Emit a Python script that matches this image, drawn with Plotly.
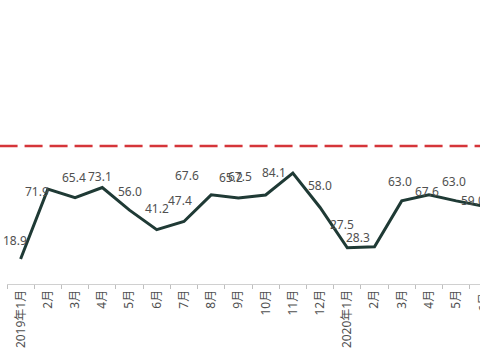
import plotly.graph_objects as go

# ---- data ----
month_ids = ["2019-01", "2019-02", "2019-03", "2019-04", "2019-05", "2019-06",
             "2019-07", "2019-08", "2019-09", "2019-10", "2019-11", "2019-12",
             "2020-01", "2020-02", "2020-03", "2020-04", "2020-05", "2020-06"]
tick_labels = ["2019年1月", "2月", "3月", "4月", "5月", "6月", "7月", "8月", "9月",
               "10月", "11月", "12月", "2020年1月", "2月", "3月", "4月", "5月", "6月"]
values = [18.9, 71.9, 65.4, 73.1, 56.0, 41.2, 47.4, 67.6, 65.2, 67.5, 84.1, 58.0,
          27.5, 28.3, 63.0, 67.6, 63.0, 59.0]
ref_level = 104.7

# ---- label offsets (pixels, style only) ----
label_dx = [-6, -11, -1, -2, 0, 0, -4, -24, -7, -26, -19, 0, -5, -17, -2, -2, -2, -10]
label_dy = [19, -2, 20, 11, 19, 21, 21, 19, 21, 18, 1, 22, 23, 9, 19, 3, 19, 6]

X_RANGE = [-0.5, 16.875]
PLOT_W = 473
CAT_W = PLOT_W / (X_RANGE[1] - X_RANGE[0])   # pixels per category

LINE_COLOR = "#1f3a35"
TEXT_COLOR = "#505050"
FONT = "Noto Sans, Noto Sans CJK SC, sans-serif"

fig = go.Figure()
fig.add_trace(go.Scatter(
    x=month_ids, y=values, mode="lines",
    line=dict(color=LINE_COLOR, width=3),
    hoverinfo="skip", showlegend=False, cliponaxis=True,
))

annotations = []
last = len(month_ids) - 1
for i, (m, v) in enumerate(zip(month_ids, values)):
    # the last category sits just past the visible range; anchor it on the
    # previous category and shift by one category width so it still draws
    anchor = m if i < last else month_ids[i - 1]
    extra = 0 if i < last else CAT_W
    annotations.append(dict(
        x=anchor, y=v, xref="x", yref="y", text=f"{v:.1f}", showarrow=False,
        xanchor="center", yanchor="middle", xshift=label_dx[i] + extra, yshift=label_dy[i],
        font=dict(size=12, color=TEXT_COLOR, family=FONT),
    ))
annotations.append(dict(
    x=month_ids[-2], y=0, xref="x", yref="y", text=tick_labels[-1], showarrow=False,
    textangle=-90, xanchor="center", yanchor="top", yshift=-7, xshift=CAT_W,
    font=dict(size=12, color=TEXT_COLOR, family=FONT),
))

fig.add_shape(type="line", xref="paper", yref="y",
              x0=-0.0157, x1=1.0, y0=ref_level, y1=ref_level,
              line=dict(color="#d5353a", width=2.5, dash="18px,7px"))

fig.update_layout(
    width=480, height=360,
    margin=dict(l=7, r=0, t=0, b=76),
    paper_bgcolor="white", plot_bgcolor="white",
    annotations=annotations,
    xaxis=dict(
        type="category", range=X_RANGE,
        tickmode="array", tickvals=month_ids, ticktext=tick_labels,
        tickson="boundaries", ticks="outside", ticklen=4, tickcolor="#bfbfbf",
        showline=True, linecolor="#d0d0d0", linewidth=1,
        showgrid=False, zeroline=False, tickangle=-90,
        tickfont=dict(size=12, color=TEXT_COLOR, family=FONT),
    ),
    yaxis=dict(
        range=[0, 215.3], visible=False, showgrid=False, zeroline=False,
    ),
)

fig.write_html("out.html", config={"displayModeBar": False},
               post_script="document.body.style.margin='0';")
